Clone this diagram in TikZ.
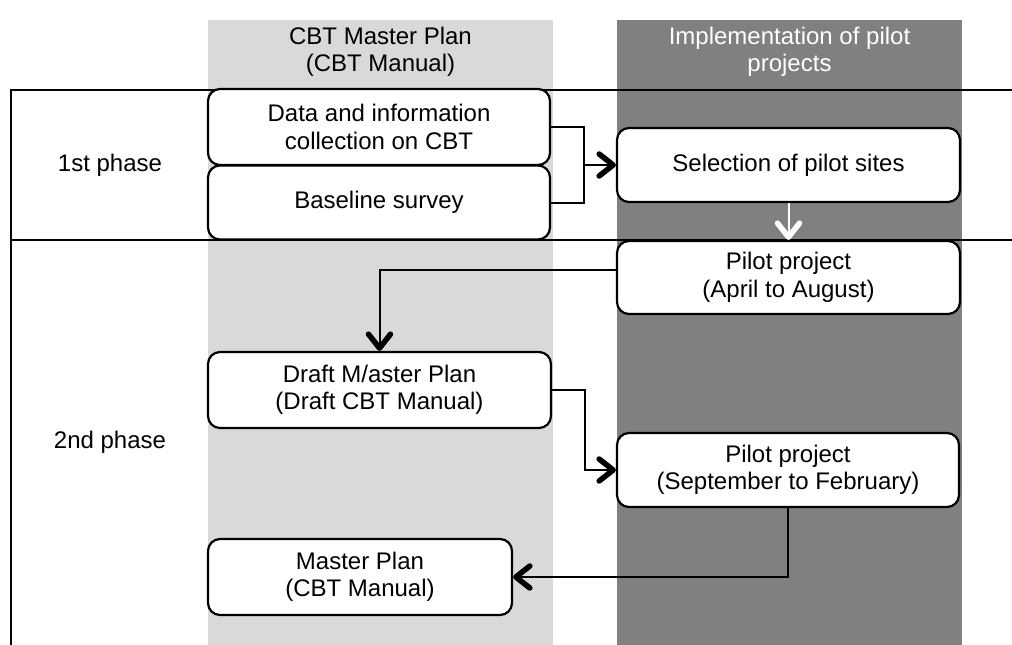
\documentclass[tikz,border=0pt]{standalone}
\usepackage{fontspec}
\setmainfont{Liberation Sans}
\usetikzlibrary{arrows.meta}

\begin{document}
\begin{tikzpicture}[x=1pt,y=-1pt,
  box/.style={draw=black, line width=2.2pt, rounded corners=12pt, fill=white,
    align=center, inner sep=0pt, minimum width=342pt, minimum height=75pt,
    font=\fontsize{24}{27.5}\selectfont},
  lbl/.style={align=center, inner sep=0pt, font=\fontsize{24}{27.5}\selectfont},
  conn/.style={draw=black, line width=2pt},
  barb/.style={-{Straight Barb[length=14pt,width=22pt,line width=5.5pt 0,round]}},
]
\definecolor{lanelight}{HTML}{D9D9D9}
\definecolor{lanedark}{HTML}{808080}
\useasboundingbox (0,0) rectangle (1012,645);

% swimlane backgrounds
\fill[lanelight] (208,20) rectangle (553,645);
\fill[lanedark]  (617,20) rectangle (962,645);

% lane headers
\node[lbl] (hdrA) at (380.5,52) {CBT Master Plan\\(CBT Manual)};
\node[lbl, text=white] (hdrB) at (789.5,52) {Implementation of pilot\\projects};

% phase grid
\draw[conn] (1012,90) -- (11,90) -- (11,645);
\draw[conn] (11,240) -- (1012,240);

% phase labels
\node[lbl] (ph1) at (110,165) {1st phase};
\node[lbl] (ph2) at (110,442) {2nd phase};

% process boxes
\node[box, minimum height=76pt] (data) at (379,127) {Data and information\\collection on CBT};
\node[box, minimum height=74pt] (base) at (379,202.5) {Baseline survey};
\node[box, minimum height=74pt, minimum width=343pt] (sel) at (788.5,165) {Selection of pilot sites};
\node[box, minimum height=73pt, minimum width=343pt] (p1) at (788.5,277.5) {Pilot project\\(April to August)};
\node[box, minimum height=76pt, minimum width=343pt] (draft) at (379.5,390) {Draft M/aster Plan\\(Draft CBT Manual)};
\node[box, minimum height=74pt] (p2) at (788,470) {Pilot project\\(September to February)};
\node[box, minimum height=76pt, minimum width=304pt] (master) at (360,577) {Master Plan\\(CBT Manual)};

% connectors
\coordinate (jn) at (584,165);
\draw[conn] (data.east) -| (jn) |- (base.east);
\draw[conn, barb] (jn) -- (sel.west);
\draw[conn, draw=white, barb] (sel.south) -- (p1.north);
\draw[conn, barb] (p1.west |- 0,270) -| (draft.north);
\draw[conn, barb] (draft.east) -- ++(33,0) |- (p2.west);
\draw[conn, barb] (p2.south) |- (master.east);
\end{tikzpicture}
\end{document}
